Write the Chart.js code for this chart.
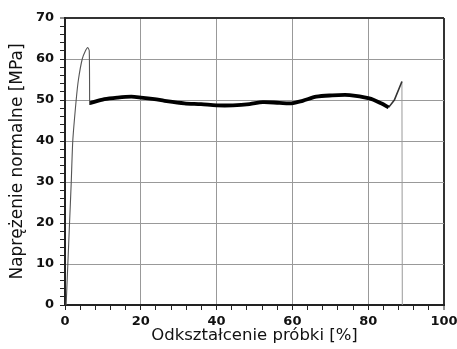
<!DOCTYPE html>
<html><head><meta charset="utf-8">
<script src="https://cdn.jsdelivr.net/npm/chart.js@4"></script>
<style>html,body{margin:0;padding:0;background:#fff}#w{width:457px;height:349px;position:relative}</style>
</head><body><div id="w"><canvas id="c"></canvas></div>
<script>
// Rising elastic part (thin line), then drop at yield
const riseX = [0.3, 0.75, 1.2, 1.65, 2.05, 2.95, 3.55, 4.55, 5.4, 6.0, 6.4, 6.5];
const riseY = [0, 10, 20, 30, 40, 50, 55, 60, 62, 62.8, 62.0, 48.8];
// Plateau (bold line)
const plateauX = [6.5, 10.4, 13.9, 17.5, 20, 23.6, 26.3, 31.5, 35.9, 40, 44.3, 48.7, 52.2, 56.6, 59.7, 62.7, 66.3, 69.8, 75.1, 80.3, 83.4, 85.4];
const plateauY = [49.2, 50.2, 50.6, 50.8, 50.6, 50.2, 49.8, 49.2, 49.0, 48.7, 48.7, 49.0, 49.5, 49.3, 49.2, 49.8, 50.8, 51.1, 51.2, 50.4, 49.2, 48.2];
// Final hardening and fracture
const endX = [85.4, 86.9, 88.9];
const endY = [48.2, 50.0, 54.5];
const dropX = [88.9, 89.0];
const dropY = [54.5, 0];

const xTicksMajor = [0, 20, 40, 60, 80, 100];
const yTicksMajor = [0, 10, 20, 30, 40, 50, 60, 70];
const xTitle = 'Odkształcenie próbki [%]';
const yTitle = 'Naprężenie normalne [MPa]';

const pts = (xs, ys) => xs.map((x, i) => ({x: x, y: ys[i]}));
const FONT = "'DejaVu Sans', 'Liberation Sans', Arial, sans-serif";

new Chart(document.getElementById('c'), {
  type: 'scatter',
  data: {datasets: [
    {data: pts(riseX, riseY), showLine: true, borderColor: '#555', borderWidth: 1.1, pointRadius: 0, tension: 0.2},
    {data: pts(plateauX, plateauY), showLine: true, borderColor: '#000', borderWidth: 3.8, pointRadius: 0, tension: 0.3},
    {data: pts(endX, endY), showLine: true, borderColor: '#333', borderWidth: 1.6, pointRadius: 0, tension: 0},
    {data: pts(dropX, dropY), showLine: true, borderColor: '#999', borderWidth: 1, pointRadius: 0, tension: 0}
  ]},
  options: {
    responsive: true, maintainAspectRatio: false, animation: false,
    plugins: {legend: {display: false}, tooltip: {enabled: false}},
    layout: {padding: {left: 0, top: 18, right: 13, bottom: 0}},
    scales: {
      x: {
        type: 'linear', min: 0, max: 100,
        afterFit: s => { s.height = 44; s.paddingRight = 0; s.paddingLeft = 0; },
        ticks: {stepSize: 4, autoSkip: false, maxRotation: 0, padding: 4, color: '#111',
          font: {family: FONT, size: 13, weight: 'bold'},
          callback: v => xTicksMajor.includes(v) ? String(v) : ''},
        grid: {
          color: c => (c.tick && xTicksMajor.includes(c.tick.value) && c.tick.value !== 0) ? (c.tick.value === 100 ? '#333' : '#999') : 'rgba(0,0,0,0)',
          lineWidth: c => (c.tick && c.tick.value === 100) ? 2 : 1,
          tickColor: '#222', tickLength: 5, tickWidth: 1
        },
        border: {color: '#222', width: 2},
        title: {display: true, text: xTitle, color: '#111', font: {family: FONT, size: 16.5}, padding: {top: 0, bottom: 3}}
      },
      y: {
        type: 'linear', min: 0, max: 70,
        afterFit: s => { s.width = 65; s.paddingTop = 0; s.paddingBottom = 0; },
        ticks: {stepSize: 2, autoSkip: false, padding: 6, color: '#111',
          font: {family: FONT, size: 13, weight: 'bold'},
          callback: v => yTicksMajor.includes(v) ? String(v) : ''},
        grid: {
          color: c => (c.tick && yTicksMajor.includes(c.tick.value) && c.tick.value !== 0) ? (c.tick.value === 70 ? '#333' : '#999') : 'rgba(0,0,0,0)',
          lineWidth: c => (c.tick && c.tick.value === 70) ? 2 : 1,
          tickColor: '#222', tickLength: 5, tickWidth: 1
        },
        border: {color: '#222', width: 2},
        title: {display: true, text: yTitle, color: '#111', font: {family: FONT, size: 17}, padding: {top: 7, bottom: 0}}
      }
    }
  }
});
</script></body></html>
